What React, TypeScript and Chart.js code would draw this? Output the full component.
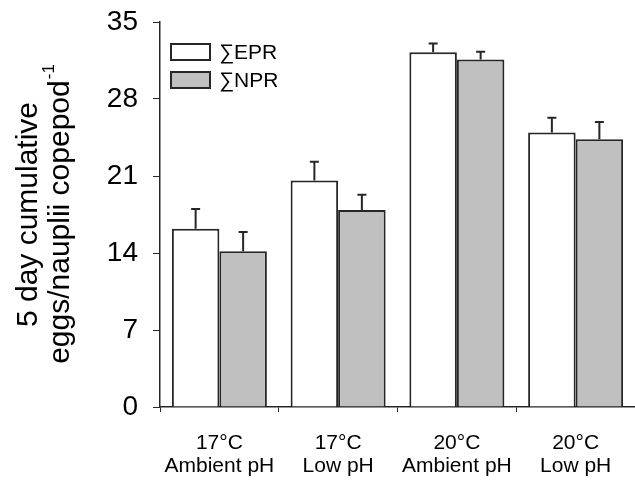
import React, { useEffect, useRef } from "react";
import { Chart, registerables } from "chart.js";

Chart.register(...registerables);

const categories: string[][] = [
  ["17°C", "Ambient pH"],
  ["17°C", "Low pH"],
  ["20°C", "Ambient pH"],
  ["20°C", "Low pH"],
];
const seriesNames = ["∑EPR", "∑NPR"];
const eprValues = [16.2, 20.6, 32.25, 24.95];
const eprErrors = [1.8, 1.7, 0.8, 1.35];
const nprValues = [14.15, 17.9, 31.6, 24.35];
const nprErrors = [1.75, 1.4, 0.7, 1.55];
const yTicks = [0, 7, 14, 21, 28, 35];
const yTitleLines = ["5 day cumulative", "eggs/nauplii copepod"];
const yTitleSup = "-1";

const FONT = "'Liberation Sans', Arial, sans-serif";
const EDGE = "#262626";
const GREY = "#c0c0c0";

const errorBarPlugin = {
  id: "errorBars",
  afterDatasetsDraw(chart: any) {
    const ctx = chart.ctx;
    const yScale = chart.scales.y;
    chart.data.datasets.forEach((ds: any, i: number) => {
      const meta = chart.getDatasetMeta(i);
      meta.data.forEach((el: any, j: number) => {
        const v = ds.data[j];
        const e = ds.errors[j];
        const yTop = yScale.getPixelForValue(v + e);
        ctx.save();
        ctx.strokeStyle = EDGE;
        ctx.lineWidth = 2;
        ctx.beginPath();
        ctx.moveTo(el.x, el.y);
        ctx.lineTo(el.x, yTop);
        ctx.moveTo(el.x - 4.5, yTop);
        ctx.lineTo(el.x + 4.5, yTop);
        ctx.stroke();
        ctx.restore();
      });
    });
  },
};

const decorPlugin = {
  id: "decor",
  afterDraw(chart: any) {
    const ctx = chart.ctx;
    const area = chart.chartArea;
    const cy = (area.top + area.bottom) / 2;
    ctx.save();
    ctx.fillStyle = "#000";
    // y title
    ctx.font = `30px ${FONT}`;
    ctx.textBaseline = "middle";
    ctx.save();
    ctx.translate(29, cy);
    ctx.rotate(-Math.PI / 2);
    ctx.textAlign = "center";
    ctx.fillText(yTitleLines[0], 0, 0);
    ctx.restore();
    ctx.save();
    ctx.translate(61, cy);
    ctx.rotate(-Math.PI / 2);
    ctx.textAlign = "left";
    ctx.font = `30px ${FONT}`;
    const w1 = ctx.measureText(yTitleLines[1]).width;
    ctx.font = `17px ${FONT}`;
    const w2 = ctx.measureText(yTitleSup).width;
    const start = -(w1 + w2) / 2;
    ctx.font = `30px ${FONT}`;
    ctx.fillText(yTitleLines[1], start, 0);
    ctx.font = `17px ${FONT}`;
    ctx.fillText(yTitleSup, start + w1 + 1, -12);
    ctx.restore();

    // legend
    const fills = ["#ffffff", GREY];
    seriesNames.forEach((name, i) => {
      const bx = 171;
      const by = 44 + i * 28;
      ctx.fillStyle = fills[i];
      ctx.fillRect(bx, by, 39, 16);
      ctx.strokeStyle = EDGE;
      ctx.lineWidth = 2;
      ctx.strokeRect(bx, by, 39, 16);
      ctx.fillStyle = "#000";
      ctx.font = `21px ${FONT}`;
      ctx.textAlign = "left";
      ctx.textBaseline = "middle";
      ctx.fillText(name, 219, by + 9);
    });
    ctx.restore();
  },
};

export default function App() {
  const ref = useRef<HTMLCanvasElement>(null);
  useEffect(() => {
    if (!ref.current) return;
    const chart = new Chart(ref.current, {
      type: "bar",
      data: {
        labels: categories,
        datasets: [
          {
            label: seriesNames[0],
            data: eprValues,
            errors: eprErrors,
            backgroundColor: "#ffffff",
            borderColor: EDGE,
            borderWidth: 2,
            categoryPercentage: 0.8,
            barPercentage: 1.0,
          } as any,
          {
            label: seriesNames[1],
            data: nprValues,
            errors: nprErrors,
            backgroundColor: GREY,
            borderColor: EDGE,
            borderWidth: 2,
            categoryPercentage: 0.8,
            barPercentage: 1.0,
          } as any,
        ],
      },
      options: {
        responsive: false,
        animation: false,
        layout: { padding: { top: 22, right: 0, left: 0, bottom: 0 } },
        plugins: {
          legend: { display: false },
          tooltip: { enabled: false },
        },
        scales: {
          x: {
            grid: {
              display: true,
              drawOnChartArea: false,
              drawTicks: true,
              tickLength: 5,
              color: EDGE,
              offset: true,
            },
            border: { display: true, color: EDGE, width: 1.5 },
            ticks: {
              color: "#000",
              font: { family: FONT, size: 21, lineHeight: 1.1 },
              padding: 20,
              maxRotation: 0,
              autoSkip: false,
            },
            afterFit(scale: any) {
              scale.height = 73;
              scale.paddingLeft = 0;
              scale.paddingRight = 0;
            },
          },
          y: {
            min: 0,
            max: 35,
            afterBuildTicks(scale: any) {
              scale.ticks = yTicks.map((v) => ({ value: v }));
            },
            grid: {
              display: true,
              drawOnChartArea: false,
              drawTicks: true,
              tickLength: 7,
              color: EDGE,
            },
            border: { display: true, color: EDGE, width: 1.5 },
            ticks: {
              color: "#000",
              font: { family: FONT, size: 28 },
              padding: 15,
            },
            afterFit(scale: any) {
              scale.width = 160;
              scale.paddingTop = 0;
              scale.paddingBottom = 0;
            },
          },
        },
      },
      plugins: [errorBarPlugin, decorPlugin],
    } as any);
    return () => chart.destroy();
  }, []);
  return (
    <div style={{ position: "fixed", left: 0, top: 0, width: 635, height: 480, background: "#fff" }}>
      <canvas ref={ref} width={635} height={480} />
    </div>
  );
}
